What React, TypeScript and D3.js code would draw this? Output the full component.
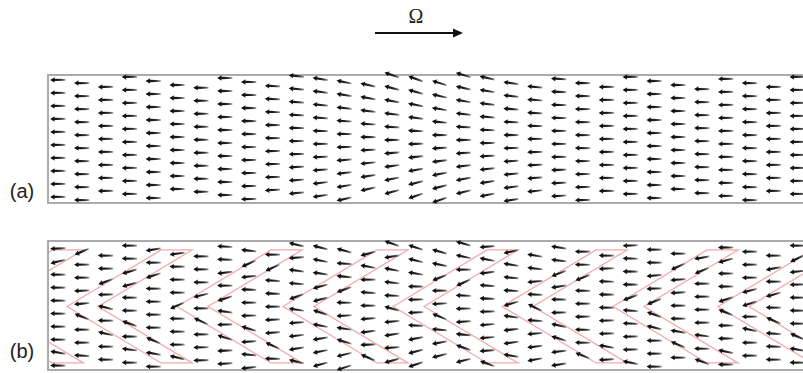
import { useEffect, useRef } from "react";
import * as d3 from "d3";

// lattice: one entry per column (column index units), first-row phase in row units
const columnIndex = d3.range(32);
const rowPhaseA = [
  0.38, 0.62, 0.92, 0.15, 0.46, 0.77, 0.98, 0.23, 0.54, 0.85, 0.08, 0.3, 0.54, 0.77, 0.0, 0.3,
  0.62, 0.0, 0.23, 0.62, 0.92, 0.3, 0.62, 0.92, 0.15, 0.46, 0.77, 1.08, 0.3, 0.62, 0.92, 0.15,
];
const rowPhaseShiftB = 0.2;

// tilt of the outermost rows (degrees), per column
const tiltA = [
  0, 0, 0, 0, 0, 0, 0, 0, 1, 3, 6, 9, 12, 14, 17, 19, 18, 15, 12, 9, 6, 3, 1, 0, 0, 0, 0, 0, 0, 0, 0, 0,
];
const tiltB = [
  0, 0, 0, 0, 0, 0, 1, 3, 6, 10, 13, 15, 17, 18, 18, 18, 17, 15, 14, 13, 11, 9, 6, 4, 2, 0, 0, 0, 0, 0, 0, 0,
];

// chevron bands in panel (b): outer tip position (column units)
const chevronTips = [-4.18, 0.38, 4.99, 9.43, 14.05, 18.62, 23.27, 27.67];
const chevronWidth = 1.3;
const chevronSpan = 3.94;
const chevronTop = 0.69;
const chevronBottom = 9.38;
const armPull = 0.85;

const panelLabels = ["(a)", "(b)"];
const rotationLabel = "Ω";

export default function App() {
  const svgRef = useRef<SVGSVGElement>(null);

  useEffect(() => {
    if (!svgRef.current) return;
    const svg = d3.select(svgRef.current);
    svg.selectAll("*").remove();

    const width = 803;
    const colSpacing = 23.85;
    const rowSpacing = 13;
    const boxLeft = 48;
    const boxRight = 802;

    const x = d3
      .scaleLinear()
      .domain([0, 31])
      .range([58, 58 + 31 * colSpacing]);

    const defs = svg.append("defs");
    const grad = defs
      .append("linearGradient")
      .attr("id", "shaft")
      .attr("gradientUnits", "userSpaceOnUse")
      .attr("x1", -7.5)
      .attr("x2", 7.5)
      .attr("y1", 0)
      .attr("y2", 0);
    grad.append("stop").attr("offset", "0%").attr("stop-color", "#0a0a0a");
    grad.append("stop").attr("offset", "50%").attr("stop-color", "#1c1c1c");
    grad.append("stop").attr("offset", "78%").attr("stop-color", "#444");
    grad.append("stop").attr("offset", "100%").attr("stop-color", "#a8a8a8");

    defs
      .append("filter")
      .attr("id", "soft")
      .attr("x", "-5%")
      .attr("y", "-5%")
      .attr("width", "110%")
      .attr("height", "110%")
      .append("feGaussianBlur")
      .attr("stdDeviation", 0.55);

    const arrowPath =
      "M-7.8,0 L-3.2,-2.7 L-3.6,-1.15 L7.5,-0.85 L7.5,0.85 L-3.6,1.15 L-3.2,2.7 Z";

    const panels = [
      { label: panelLabels[0], top: 75, bottom: 203, shift: 0, tilt: tiltA, chevrons: false, labelY: 198 },
      { label: panelLabels[1], top: 241, bottom: 370, shift: rowPhaseShiftB, tilt: tiltB, chevrons: true, labelY: 358 },
    ];

    panels.forEach((p, pi) => {
      const rows = (p.bottom - p.top) / rowSpacing;
      const y = d3.scaleLinear().domain([0, rows]).range([p.top, p.bottom]);
      const yc = rows / 2;

      // chevron geometry in px
      const chevs = chevronTips.map((t) => {
        const pts: [number, number][] = [
          [t, (chevronTop + chevronBottom) / 2],
          [t + chevronSpan, chevronTop],
          [t + chevronSpan + chevronWidth, chevronTop],
          [t + chevronWidth, (chevronTop + chevronBottom) / 2],
          [t + chevronSpan + chevronWidth, chevronBottom],
          [t + chevronSpan, chevronBottom],
        ];
        return pts.map(([a, b]) => [x(a), y(b)] as [number, number]);
      });

      const segDist = (px: number, py: number, a: [number, number], b: [number, number]) => {
        const dx = b[0] - a[0];
        const dy = b[1] - a[1];
        let t = ((px - a[0]) * dx + (py - a[1]) * dy) / (dx * dx + dy * dy);
        t = Math.max(0, Math.min(1, t));
        return Math.hypot(px - (a[0] + t * dx), py - (a[1] + t * dy));
      };

      const armAngle =
        (Math.atan2(y(chevronBottom) - y(chevronTop), 2 * (x(chevronSpan) - x(0))) * 180) / Math.PI;

      const arrows: { cx: number; cy: number; ang: number }[] = [];
      columnIndex.forEach((c) => {
        const phase = rowPhaseA[c] + p.shift;
        for (let i = 0; phase + i < 9.75; i++) {
          const r = phase + i;
          const cx = x(c);
          const cy = y(r);
          const f = Math.max(-1.1, Math.min(1.1, (yc - r) / 4.5));
          let ang = p.tilt[c] * f;
          if (p.chevrons) {
            let best = Infinity;
            let target = 0;
            chevs.forEach((pts) => {
              // upper arms: outer pts0-pts1, inner pts3-pts2 ; lower arms: pts0-pts5, pts3-pts4
              const arms: [[number, number], [number, number], number][] = [
                [pts[0], pts[1], -armAngle],
                [pts[3], pts[2], -armAngle],
                [pts[0], pts[5], armAngle],
                [pts[3], pts[4], armAngle],
              ];
              arms.forEach(([a, b, t]) => {
                const d = segDist(cx, cy, a, b);
                if (d < best) {
                  best = d;
                  target = t;
                }
              });
            });
            const w = armPull * Math.max(0, 1 - best / 6.5);
            ang = ang * (1 - w) + target * w;
          }
          arrows.push({ cx, cy, ang });
        }
      });

      const g = svg.append("g");

      // box
      g.append("rect")
        .attr("x", boxLeft)
        .attr("y", p.top)
        .attr("width", boxRight - boxLeft + 10)
        .attr("height", p.bottom - p.top)
        .attr("fill", "none")
        .attr("stroke", "#a2a2a2")
        .attr("stroke-width", 1.8);

      // chevrons
      if (p.chevrons) {
        const clipId = `clip-${pi}`;
        defs
          .append("clipPath")
          .attr("id", clipId)
          .append("rect")
          .attr("x", boxLeft + 1)
          .attr("y", p.top + 1)
          .attr("width", boxRight - boxLeft)
          .attr("height", p.bottom - p.top - 2);
        const line = d3.line<[number, number]>().curve(d3.curveLinearClosed);
        g.append("g")
          .attr("clip-path", `url(#${clipId})`)
          .selectAll("path")
          .data(chevs)
          .enter()
          .append("path")
          .attr("d", (d) => line(d))
          .attr("fill", "none")
          .attr("stroke", "#f29a9a")
          .attr("stroke-opacity", 0.85)
          .attr("stroke-width", 1.3);
      }

      g.append("g")
        .attr("filter", "url(#soft)")
        .selectAll("path")
        .data(arrows)
        .enter()
        .append("path")
        .attr("d", arrowPath)
        .attr("fill", "url(#shaft)")
        .attr("transform", (d) => `translate(${d.cx},${d.cy}) rotate(${d.ang})`);

      svg
        .append("text")
        .attr("x", 22)
        .attr("y", p.labelY)
        .attr("text-anchor", "middle")
        .attr("font-family", "Liberation Sans, Arial, sans-serif")
        .attr("font-size", 20)
        .attr("fill", "#222")
        .text(p.label);
    });

    // rotation direction
    svg
      .append("text")
      .attr("x", 416)
      .attr("y", 23)
      .attr("text-anchor", "middle")
      .attr("font-family", "Liberation Serif, Times New Roman, serif")
      .attr("font-size", 20)
      .attr("fill", "#2a2218")
      .text(rotationLabel);
    svg
      .append("line")
      .attr("x1", 375)
      .attr("x2", 455)
      .attr("y1", 33)
      .attr("y2", 33)
      .attr("stroke", "#111")
      .attr("stroke-width", 2.2);
    svg
      .append("path")
      .attr("d", "M453,28.5 L463,33 L453,37.5 Z")
      .attr("fill", "#111");

    svg.attr("width", width).attr("height", 373);
  }, []);

  return (
    <div style={{ position: "absolute", left: 0, top: 0, width: 803, height: 373, background: "#fff" }}>
      <svg ref={svgRef} width={803} height={373} style={{ display: "block" }}></svg>
    </div>
  );
}
